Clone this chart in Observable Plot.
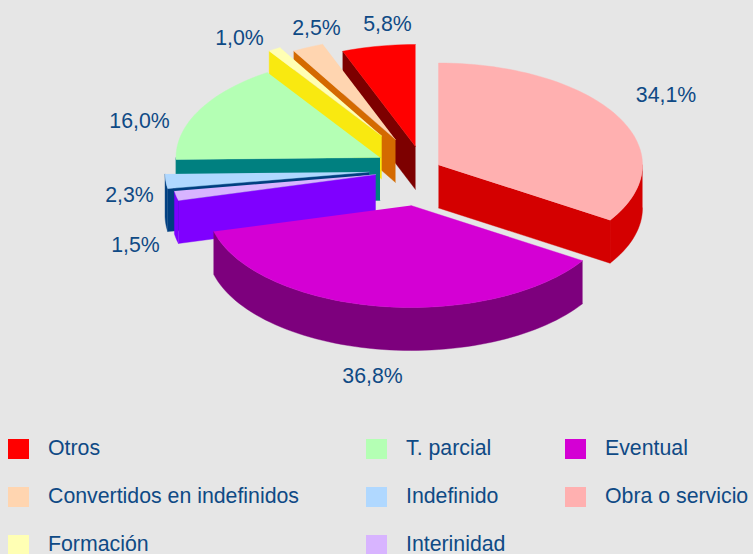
<!DOCTYPE html>
<html>
<head>
<meta charset="utf-8">
<script src="https://cdn.jsdelivr.net/npm/d3@7"></script>
<script src="https://cdn.jsdelivr.net/npm/@observablehq/plot@0.6"></script>
<style>
  html, body { margin: 0; padding: 0; background: #e6e6e6; overflow: hidden; }
  #page { width: 753px; height: 554px; overflow: hidden; position: relative; font-family: "Liberation Sans", Arial, sans-serif; color: #0f4a85; }
  #chart svg { display: block; }
  #legend { display: grid; grid-template-columns: 358px 199px 186px; grid-auto-flow: column; grid-template-rows: repeat(3, 48px); padding: 14px 0 0 8px; font-size: 21.3px; }
  .item { display: flex; align-items: flex-start; height: 48px; white-space: nowrap; }
  .swatch { width: 21px; height: 20px; margin-right: 19px; flex: none; }
  .name { line-height: 20px; margin-top: -1px; }
</style>
</head>
<body>
<div id="page"><div id="chart"></div><div id="legend"></div></div>
<script>
// Data, clockwise from twelve o'clock
const categories = ["Obra o servicio", "Eventual", "Interinidad", "Indefinido", "T. parcial", "Formación", "Convertidos en indefinidos", "Otros"];
const shares = [34.1, 36.8, 1.5, 2.3, 16.0, 1.0, 2.5, 5.8];
const shareLabels = ["34,1%", "36,8%", "1,5%", "2,3%", "16,0%", "1,0%", "2,5%", "5,8%"];
const topColors = ["#ffb0b0", "#d400d4", "#d8b4ff", "#b0d8ff", "#b4ffb4", "#ffffb4", "#ffd5b0", "#ff0000"];
const sideColors = ["#d40000", "#7d007d", "#7f00ff", "#003f80", "#008080", "#f9e910", "#d46a00", "#7d0000"];

// Legend order (column by column)
const legendOrder = ["Otros", "Convertidos en indefinidos", "Formación", "T. parcial", "Indefinido", "Interinidad", "Eventual", "Obra o servicio"];

// Layout of the exploded pie
const rx = 204, ry = 102, depth = 43;
const apexX = [438, 410.5, 375.2, 368.5, 379.5, 381.2, 395, 415];
const apexY = [164.5, 205, 174, 171.5, 157, 135.5, 139, 146];
const labelX = [665.5, 372, 135, 129, 139, 239, 316, 387];
const labelY = [95, 376, 245, 195, 120.5, 38, 28, 23.5];
const paintOrder = [0, 7, 6, 5, 4, 3, 2, 1];

const rad = d => d * Math.PI / 180;
const total = d3.sum(shares);
const cum = d3.cumsum(shares);
const slices = categories.map((name, i) => ({
  i, name,
  a0: (i ? cum[i - 1] : 0) / total * 360,
  a1: cum[i] / total * 360
}));

function rim(i, a, dz = 0) {
  return [apexX[i] + rx * Math.sin(rad(a)), apexY[i] - ry * Math.cos(rad(a)) + dz];
}
function arc(i, a0, a1, dz = 0) {
  const n = Math.max(2, Math.ceil((a1 - a0) / 2));
  return d3.range(n + 1).map(k => rim(i, a0 + (a1 - a0) * k / n, dz));
}

const faces = [];
function addFace(id, fill, pts) {
  for (const [x, y] of pts) faces.push({face: id, fill, x, y});
}
for (const p of paintOrder) {
  const s = slices[p], i = s.i;
  const A = [apexX[i], apexY[i]], B = [apexX[i], apexY[i] + depth];
  // Cut faces
  if (Math.sin(rad(s.a0)) < -1e-6) {
    addFace(`${i}-start`, sideColors[i], [A, rim(i, s.a0), rim(i, s.a0, depth), B]);
  }
  if (Math.sin(rad(s.a1)) > 1e-6) {
    addFace(`${i}-end`, sideColors[i], [A, rim(i, s.a1), rim(i, s.a1, depth), B]);
  }
  // Outer wall (front half only)
  const w0 = Math.max(s.a0, 90), w1 = Math.min(s.a1, 270);
  if (w1 > w0) {
    addFace(`${i}-wall`, sideColors[i], [...arc(i, w0, w1), ...arc(i, w0, w1, depth).reverse()]);
  }
  // Top
  addFace(`${i}-top`, topColors[i], [A, ...arc(i, s.a0, s.a1)]);
}

const H = 425;
const labels = categories.map((c, i) => ({text: shareLabels[i], x: labelX[i], y: labelY[i]}));

const plot = Plot.plot({
  width: 753, height: H,
  margin: 0,
  style: {background: "#e6e6e6", fontFamily: '"Liberation Sans", Arial, sans-serif'},
  x: {domain: [0, 753], range: [0, 753], axis: null},
  y: {domain: [0, H], range: [0, H], axis: null},
  color: {type: "identity"},
  marks: [
    Plot.line(faces, {x: "x", y: "y", z: "face", fill: "fill", stroke: "fill", strokeWidth: 0.4, curve: "linear"}),
    Plot.text(labels, {x: "x", y: "y", text: "text", fill: "#0f4a85", fontSize: 21.3, textAnchor: "middle"})
  ]
});
document.getElementById("chart").append(plot);

const legend = document.getElementById("legend");
for (const name of legendOrder) {
  const i = categories.indexOf(name);
  const item = document.createElement("div");
  item.className = "item";
  const sw = document.createElement("div");
  sw.className = "swatch";
  sw.style.background = topColors[i];
  const t = document.createElement("div");
  t.className = "name";
  t.textContent = name;
  item.append(sw, t);
  legend.append(item);
}
</script>
</body>
</html>
